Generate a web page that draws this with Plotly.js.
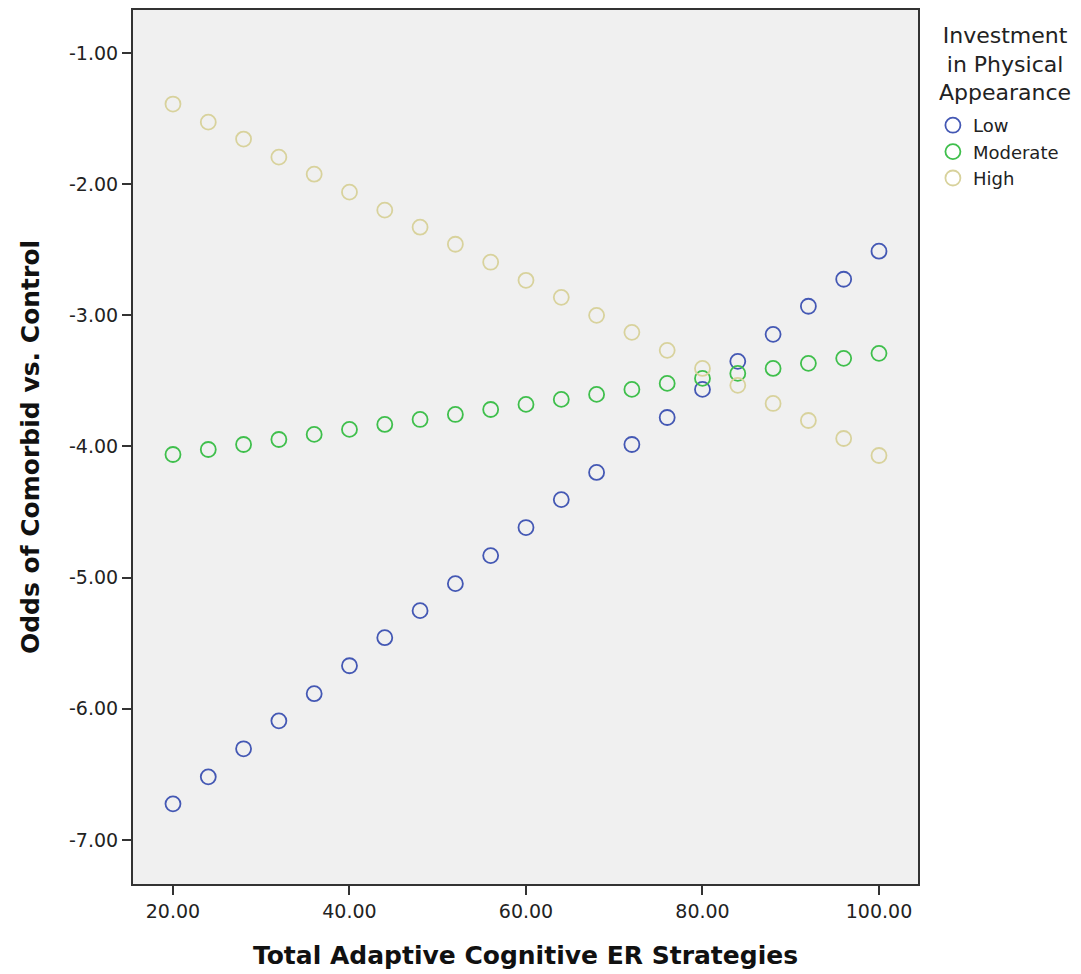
<!DOCTYPE html>
<html><head><meta charset="utf-8">
<script src="https://cdn.plot.ly/plotly-3.0.1.min.js"></script>
<style>body{margin:0;background:#fff}#c{width:1081px;height:974px}</style>
</head><body><div id="c"></div>
<script>
const xVals = [20,24,28,32,36,40,44,48,52,56,60,64,68,72,76,80,84,88,92,96,100];
const lowVals = [-6.725,-6.519,-6.305,-6.092,-5.885,-5.672,-5.458,-5.252,-5.046,-4.832,-4.618,-4.405,-4.198,-3.985,-3.779,-3.565,-3.351,-3.145,-2.931,-2.725,-2.511];
const moderateVals = [-4.061,-4.023,-3.985,-3.947,-3.908,-3.870,-3.832,-3.794,-3.756,-3.718,-3.679,-3.641,-3.603,-3.565,-3.519,-3.481,-3.443,-3.405,-3.366,-3.328,-3.290];
const highVals = [-1.389,-1.527,-1.656,-1.794,-1.924,-2.061,-2.198,-2.328,-2.458,-2.595,-2.733,-2.863,-3.000,-3.130,-3.267,-3.405,-3.534,-3.672,-3.802,-3.939,-4.069];
const seriesNames = ["Low","Moderate","High"];
const seriesColors = ["#4458b4","#3fbf4c","#d8d29c"];
const xTicks = [20,40,60,80,100];
const yTicks = [-1,-2,-3,-4,-5,-6,-7];

const ys = [lowVals, moderateVals, highVals];
const traces = seriesNames.map((n,i)=>({
  type:'scatter', mode:'markers', name:n, x:xVals, y:ys[i],
  marker:{symbol:'circle-open', size:15, color:seriesColors[i], line:{width:1.8, color:seriesColors[i]}},
  cliponaxis:false
}));
const layout = {
  width:1081, height:974,
  margin:{l:133, r:163, t:10, b:90},
  paper_bgcolor:'#ffffff', plot_bgcolor:'#f0f0f0',
  font:{family:'DejaVu Sans', color:'#222'},
  showlegend:true,
  legend:{x:1.019, xanchor:'left', y:0.889, yanchor:'top', font:{size:18, family:'DejaVu Sans', color:'#222'},
    itemwidth:30, tracegroupgap:0, bgcolor:'rgba(0,0,0,0)'},
  xaxis:{range:[15.47,104.42], tickvals:xTicks, ticktext:xTicks.map(v=>v.toFixed(2)),
    ticks:'outside', ticklen:9, tickwidth:2, tickcolor:'#333', showgrid:false, zeroline:false,
    showline:true, linecolor:'#333', linewidth:2, mirror:true,
    tickfont:{size:19, family:'DejaVu Sans', color:'#222'},
    title:{text:'Total Adaptive Cognitive ER Strategies', font:{size:25, family:'DejaVu Sans', color:'#111', weight:'bold'}, standoff:26}},
  yaxis:{range:[-7.336,-0.672], tickvals:yTicks, ticktext:yTicks.map(v=>'-'+Math.abs(v).toFixed(2)),
    ticks:'outside', ticklen:9, tickwidth:2, tickcolor:'#333', showgrid:false, zeroline:false,
    showline:true, linecolor:'#333', linewidth:2, mirror:true,
    tickfont:{size:19, family:'DejaVu Sans', color:'#222'},
    title:{text:'Odds of Comorbid vs. Control', font:{size:25, family:'DejaVu Sans', color:'#111', weight:'bold'}, standoff:22}},
  annotations:[{xref:'paper', yref:'paper', x:1.111, y:0.987, xanchor:'center', yanchor:'top', align:'center', showarrow:false,
    text:'Investment<br>in Physical<br>Appearance', font:{size:22, family:'DejaVu Sans', color:'#222'}}]
};
Plotly.newPlot('c', traces, layout, {displayModeBar:false});
</script></body></html>
